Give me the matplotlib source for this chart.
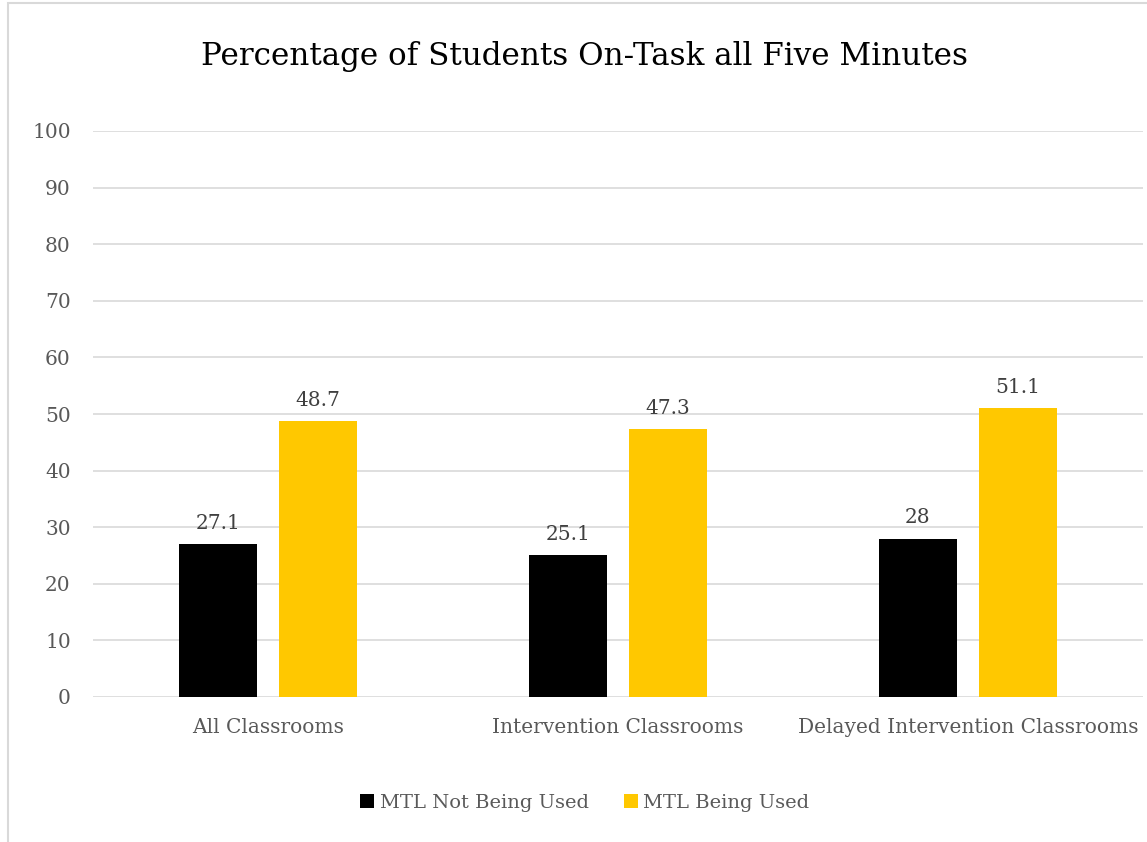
import numpy as np
import matplotlib.pyplot as plt
from matplotlib.patches import Rectangle

# Data
categories = ['All Classrooms', 'Intervention Classrooms', 'Delayed Intervention Classrooms']
not_used = [27.1, 25.1, 28]
used = [48.7, 47.3, 51.1]
not_used_labels = ['27.1', '25.1', '28']
used_labels = ['48.7', '47.3', '51.1']
series_names = ['MTL Not Being Used', 'MTL Being Used']

plt.rcParams['font.family'] = ['DejaVu Serif']
text_grey = '#595959'
grid_grey = '#d9d9d9'
gold = '#FFC800'

fig = plt.figure(figsize=(11.47, 8.42), dpi=100)
ax = fig.add_axes([93 / 1147, 145 / 842, 1050 / 1147, 566 / 842])

# chart border
fig.patches.append(Rectangle((8 / 1147, -0.1), 1.2, (842 - 3) / 842 + 0.1,
                             transform=fig.transFigure, fill=False,
                             edgecolor=grid_grey, linewidth=1.5))

x = np.arange(len(categories))
w = 0.223
off = 0.143
b1 = ax.bar(x - off, not_used, w, color='black', label=series_names[0], zorder=3)
b2 = ax.bar(x + off, used, w, color=gold, label=series_names[1], zorder=3)

for bars, labs in ((b1, not_used_labels), (b2, used_labels)):
    for rect, lab in zip(bars, labs):
        ax.annotate(lab, (rect.get_x() + rect.get_width() / 2, rect.get_height()),
                    xytext=(0, 8), textcoords='offset points', ha='center',
                    va='bottom', fontsize=14.5, color='#404040')

ax.set_xlim(-0.5, 2.5)
ax.set_ylim(0, 100)
ax.set_yticks(range(0, 101, 10))
ax.set_xticks(x)
ax.set_xticklabels(categories)
ax.tick_params(axis='both', length=0, labelsize=14.5, labelcolor=text_grey)
ax.tick_params(axis='x', pad=15)
ax.tick_params(axis='y', pad=16)
ax.grid(axis='y', color=grid_grey, linewidth=1.2, zorder=0)
for s in ax.spines.values():
    s.set_visible(False)

fig.text(0.51, 1 - 56 / 842, 'Percentage of Students On-Task all Five Minutes',
         ha='center', va='center', fontsize=22.3, color='black')

fig.legend(handles=[b1, b2], loc='center', bbox_to_anchor=(0.51, 1 - 803 / 842),
           ncol=2, frameon=False, fontsize=14, labelcolor=text_grey,
           handlelength=0.7, handleheight=0.7, handletextpad=0.3, columnspacing=1.8)

fig.savefig('out.png', dpi=100)
